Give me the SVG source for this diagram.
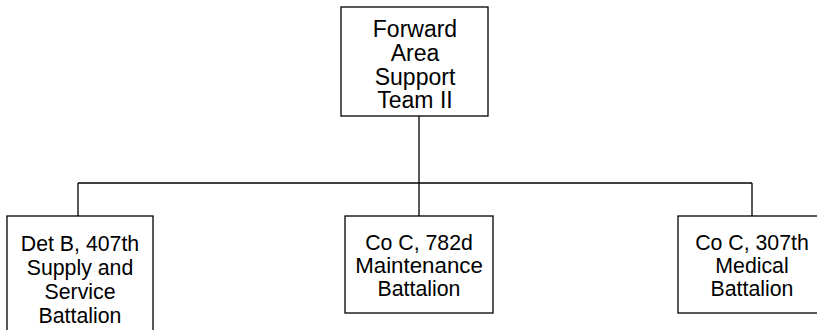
<svg xmlns="http://www.w3.org/2000/svg" width="817" height="330" viewBox="0 0 817 330">
<style>
.box{fill:#fff;stroke:#000;stroke-width:1.3}
.ln{fill:none;stroke:#000;stroke-width:1.3}
text{font-family:"Liberation Sans",Arial,sans-serif;font-size:21.3px;fill:#000;text-anchor:middle}
.big{font-size:23px}
</style>
<rect width="817" height="330" fill="#fff"/>
<g id="connectors">
<path class="ln" d="M419,116 V183 M78,183 H752 M78,183 V216 M419,183 V216 M752,183 V216"/>
</g>
<g id="fast2">
<rect class="box" x="341" y="7" width="147" height="109"/>
<text class="big" x="415" y="36.5">Forward</text>
<text class="big" x="415" y="60.5">Area</text>
<text class="big" x="415" y="84.5">Support</text>
<text class="big" x="415" y="108">Team II</text>
</g>
<g id="detb">
<rect class="box" x="7" y="216" width="146" height="130"/>
<text x="80" y="251">Det B, 407th</text>
<text x="80" y="275">Supply and</text>
<text x="80" y="299">Service</text>
<text x="80" y="323">Battalion</text>
</g>
<g id="coc782">
<rect class="box" x="345" y="216" width="148" height="97"/>
<text x="419" y="250">Co C, 782d</text>
<text x="419" y="273" style="font-size:22.3px">Maintenance</text>
<text x="419" y="296">Battalion</text>
</g>
<g id="coc307">
<rect class="box" x="678" y="216" width="148" height="97"/>
<text x="752" y="250">Co C, 307th</text>
<text x="752" y="273">Medical</text>
<text x="752" y="296">Battalion</text>
</g>
</svg>
